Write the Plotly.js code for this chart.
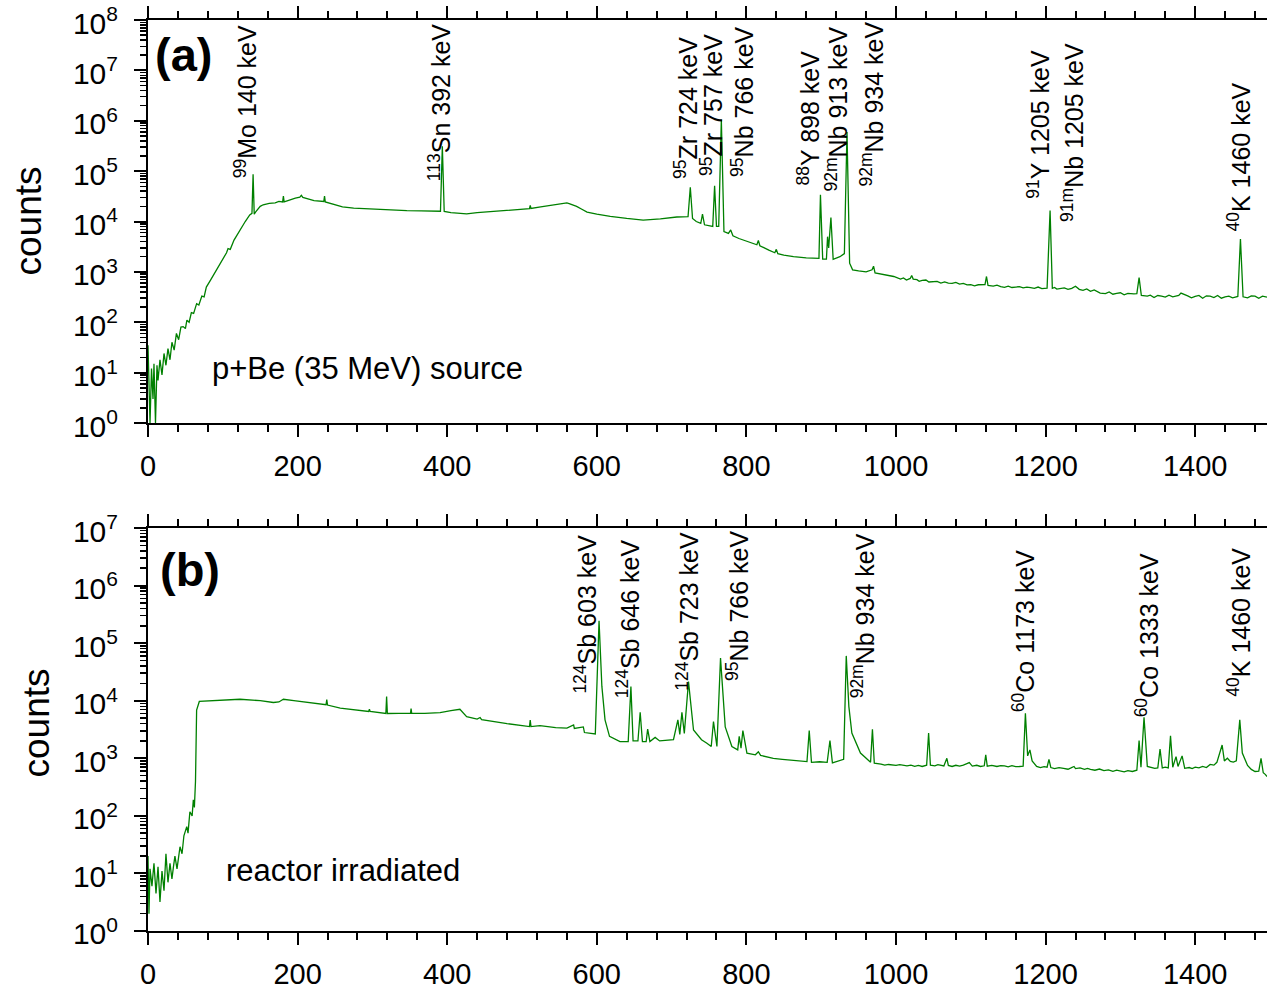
<!DOCTYPE html>
<html><head><meta charset="utf-8">
<script src="https://cdn.plot.ly/plotly-3.0.1.min.js"></script>
<style>html,body{margin:0;padding:0;background:#fff;overflow:hidden}#chart{width:1267px;height:992px}</style>
</head><body><div id="chart"></div>
<script>
// ---- panel (a): p+Be (35 MeV) source : [energy keV, counts] ----
const spectrumA_low = [[0,35],[1.3,8],[2.7,1],[4.7,12],[6.7,3],[8,15],[10,1],[12,14],[13.4,7],[16,18],[18.7,9],[21.4,24],[24,14],[26.7,30],[29.4,18],[32,40],[35,28],[38,60],[41,45],[44,80],[47,82],[50,75],[52,110],[55,100],[58,155],[61,150],[65,234],[68,220],[72,330],[75,320],[78,500],[84,700],[90,1000],[97,1500],[105,2400],[107,2900],[110,2800],[115,4270],[123,6800],[130,10000],[136,13500],[139,14500],[140.5,87000],[142,14000],[144,15500],[150,20000],[154,21500],[162,23000],[170,23500],[175,25000],[180,24500],[181,32000],[182,24500],[190,27000],[197,29000],[203,30500],[205,33000],[207,30000],[210,29000],[222,26000],[235,25000],[236,32000],[237,24500],[245,22500],[252,21000],[260,19500],[275,18500],[290,18000],[301,17700],[320,17200],[346,16500],[365,16300],[380,16200],[391,16000],[393.5,310000],[396,15800],[405,15000],[415,14600],[426,14200],[440,15000],[460,15800],[479,17000],[495,17500],[510,18000],[511,21000],[512,18200],[525,19500],[540,21000],[550,22000],[560,23500],[564,22500],[573,20000],[580,17500],[587,15400],[600,14000],[618,12600],[640,11500],[662,10700],[685,11300],[707,12300]];
const spectrumA_mid = [[722,12500],[725,48000],[728,11500],[733,10000],[739,9200],[741.3,14000],[744,8600],[750,8200],[755,8000],[757.5,51000],[760,8000],[763,8000],[766.5,1050000],[770,6300],[776,5800],[779,6800],[782,5200],[790,4600],[800,4100],[810,3700],[814,3450],[816,4200],[818,3300],[830,2700],[838,2400],[840,2800],[842,2300],[850,2150],[863,2000],[880,1900],[894,1870],[897,1850],[899,34000],[902,1800],[907,1800],[908.5,5000],[910,3000],[913,12000],[916,1780],[925,2000],[931,2300],[934.5,600000],[938,1490],[942,1100],[950,1050],[960,1000],[968,1100],[970,1300],[972,950],[978,920],[985,880],[990,850],[997,810]];
const spectrumA_high = [[1006,720],[1010,760],[1014,690],[1019,740],[1021,850],[1023,720],[1028,700],[1031,650],[1035,680],[1040,690],[1044,630],[1050,640],[1055,650],[1060,600],[1065,630],[1070,600],[1075,590],[1080,620],[1085,570],[1090,590],[1095,550],[1100,560],[1105,530],[1110,555],[1119,560],[1121,810],[1123,540],[1130,520],[1135,545],[1140,510],[1145,495],[1150,520],[1155,490],[1160,500],[1165,510],[1170,480],[1175,500],[1180,485],[1185,470],[1190,500],[1195,465],[1202,475],[1206,16500],[1209,470],[1212,490],[1215,455],[1220,465],[1225,480],[1230,450],[1235,470],[1240,520],[1245,450],[1250,430],[1255,460],[1260,410],[1265,440],[1273,380],[1280,370],[1285,400],[1290,360],[1295,375],[1300,385],[1305,350],[1310,375],[1318,365],[1322,370],[1325,770],[1328,340],[1336,330],[1340,345],[1345,310],[1350,340],[1355,330],[1360,315],[1365,345],[1370,320],[1378,340],[1381,380],[1390,335],[1395,305],[1400,325],[1405,340],[1410,300],[1415,335],[1420,330],[1425,310],[1430,340],[1435,300],[1440,320],[1445,330],[1450,305],[1457,325],[1460.5,4500],[1464,320],[1470,305],[1475,335],[1480,330],[1485,300],[1490,330],[1496,316]];

// ---- panel (b): reactor irradiated : [energy keV, counts] ----
const spectrumB_low = [[0,20],[1.3,2],[2.7,12],[5.3,6],[8,15],[10.7,4.5],[13.4,13],[16,3.2],[18.7,11],[21.4,5],[24,22],[26.7,7],[29.4,15],[32,8],[34,13],[36,20],[38.8,12],[42.8,29],[45.5,22],[48,45],[51.8,65],[53.5,50],[56,118],[59,100],[60.6,190],[62,140],[63.5,400],[65,6900],[68.6,9700],[90,10000],[123,10600],[150,10000],[167.6,9300],[175,9500],[181,10600],[195,10000],[212,9300],[225,8800],[238,8500],[239,10500],[240,8400],[257,7400],[275,6900],[295,6500],[296,7100],[297,6500],[318,6000],[319,11800],[320,6000],[340,6000],[351,6100],[351.7,7300],[352.5,6100],[370,6000],[390.5,6200],[405,6700],[417,7100],[426,5300],[440,4800],[444,5100],[446,4700],[480,4000],[500,3700],[510,3550],[511,4600],[512,3550],[524,3700],[545,3400],[560,3330],[569,3800],[570,3300],[582,3500],[583.5,2800],[598,2650]];
const spectrumB_mid = [[603,245000],[606.8,17700],[611,4650],[617,2400],[631,1950],[642,1950],[645.6,17700],[648.5,2000],[655,2000],[658,6300],[661,1950],[666,1950],[668,3200],[671,1950],[678,2300],[684,2000],[702.5,2100],[708.4,4650],[711,2600],[713.8,6300],[717,2700],[722.6,21500],[729.3,3100],[740,2100],[747.2,1830],[753,1600],[756,4350],[760.6,1600],[765.4,55000],[771.7,3500],[780.6,1600],[788.4,1400],[790.4,2400],[792.8,1500],[795.3,3030],[800.7,1230],[812,1150],[816,1300],[819,1120],[836,1000],[848,960],[860,920],[870,900],[881,875],[884,3030],[887,850],[898,870],[908,850],[911.7,2030],[915,830],[930,960],[933.5,60000],[937,7900],[941,2740],[952.5,1230],[966,850],[968.5,3200],[971,820]];
const spectrumB_high = [[980,790],[985,760],[990,780],[1000,750],[1005,775],[1014.7,740],[1020,760],[1025,725],[1030,750],[1035,720],[1041,760],[1043.6,2740],[1046,760],[1052,740],[1056,775],[1060,760],[1064,735],[1068,1000],[1070,750],[1075,720],[1080,755],[1085,730],[1090,760],[1098,840],[1102,730],[1108,755],[1113,720],[1118,740],[1120,1150],[1122,730],[1128,755],[1135,720],[1140,745],[1145,740],[1150,710],[1155,745],[1160,715],[1165,720],[1170,730],[1173,6050],[1176,1100],[1179,1400],[1182,900],[1188,720],[1193,690],[1198,715],[1202,700],[1204.5,960],[1207,690],[1212,660],[1218,690],[1224,670],[1230,645],[1234,680],[1238,720],[1240,660],[1246,680],[1252,640],[1256,665],[1260,640],[1266,620],[1272,650],[1278,610],[1284,630],[1290,595],[1295,620],[1300,600],[1305,580],[1310,610],[1316,590],[1322,620],[1325,2030],[1327.5,700],[1331.6,5150],[1336,720],[1342,700],[1346,670],[1350,680],[1353,1440],[1356,680],[1360,700],[1364,680],[1367,2450],[1370,700],[1374.4,1070],[1377,720],[1382.5,1100],[1386,670],[1392,690],[1396,660],[1400,700],[1405,680],[1410,720],[1415,690],[1420,780],[1425,760],[1429,850],[1436,1700],[1439,900],[1443,1000],[1447,880],[1451,860],[1455,900],[1459.6,4650],[1463,1230],[1470,750],[1475,640],[1480,590],[1485,600],[1488,1000],[1491,560],[1494,520],[1496,480]];

// ---- axis tick labels ----
const decadeValsA = [1,10,100,1e3,1e4,1e5,1e6,1e7,1e8];
const decadeTextA = ['10<sup>0</sup>','10<sup>1</sup>','10<sup>2</sup>','10<sup>3</sup>','10<sup>4</sup>','10<sup>5</sup>','10<sup>6</sup>','10<sup>7</sup>','10<sup>8</sup>'];
const decadeValsB = [1,10,100,1e3,1e4,1e5,1e6,1e7];
const decadeTextB = ['10<sup>0</sup>','10<sup>1</sup>','10<sup>2</sup>','10<sup>3</sup>','10<sup>4</sup>','10<sup>5</sup>','10<sup>6</sup>','10<sup>7</sup>'];

// ---- peak labels ----
const peakTextA = ['<sup>99</sup>Mo 140 keV','<sup>113</sup>Sn 392 keV','<sup>95</sup>Zr 724 keV','<sup>95</sup>Zr 757 keV','<sup>95</sup>Nb 766 keV','<sup>88</sup>Y 898 keV','<sup>92m</sup>Nb 913 keV','<sup>92m</sup>Nb 934 keV','<sup>91</sup>Y 1205 keV','<sup>91m</sup>Nb 1205 keV','<sup>40</sup>K 1460 keV'];
const peakTextB = ['<sup>124</sup>Sb 603 keV','<sup>124</sup>Sb 646 keV','<sup>124</sup>Sb 723 keV','<sup>95</sup>Nb 766 keV','<sup>92m</sup>Nb 934 keV','<sup>60</sup>Co 1173 keV','<sup>60</sup>Co 1333 keV','<sup>40</sup>K 1460 keV'];
// label placement (right edge in keV, bottom in log10 counts)
const labelPosA = [[145.8,4.83],[405,4.79],[734.2,4.83],[767.7,4.89],[809.1,4.87],[898.7,4.69],[936.2,4.57],[983,4.67],[1206.3,4.43],[1250.5,3.97],[1473.8,3.78]];
const labelPosB = [[600.5,4.10],[656.7,4.02],[735.6,4.15],[802.5,4.33],[971,4.02],[1185,3.79],[1350.8,3.70],[1473.8,4.05]];

const FONT = 'Liberation Sans, Arial, sans-serif';
const GREEN = 'rgb(0,128,0)';

const ptsA = spectrumA_low.concat(spectrumA_mid, spectrumA_high);
const ptsB = spectrumB_low.concat(spectrumB_mid, spectrumB_high);

const traces = [
  {x: ptsA.map(p=>p[0]), y: ptsA.map(p=>p[1]), type:'scatter', mode:'lines', line:{color:GREEN, width:1.3}, xaxis:'x', yaxis:'y', hoverinfo:'skip'},
  {x: ptsB.map(p=>p[0]), y: ptsB.map(p=>p[1]), type:'scatter', mode:'lines', line:{color:GREEN, width:1.3}, xaxis:'x2', yaxis:'y2', hoverinfo:'skip'}
];

function xAxis(anchor){
  return {anchor: anchor, range:[0,1496], dtick:200, tick0:0, showgrid:false, zeroline:false,
    showline:true, linecolor:'black', linewidth:2, mirror:'ticks',
    ticks:'outside', ticklen:12, tickwidth:2, tickcolor:'black',
    minor:{dtick:40, tick0:0, ticks:'outside', ticklen:7, tickwidth:2, tickcolor:'black', showgrid:false},
    tickfont:{family:FONT, size:29, color:'black'}, ticklabelstandoff:4, ticklabeloverflow:'allow'};
}
function yAxis(anchor, domain, vals, text, top){
  return {anchor: anchor, domain: domain, type:'log', range:[-0.0005, top+0.0005], showgrid:false, zeroline:false,
    showline:true, linecolor:'black', linewidth:2,
    ticks:'outside', ticklen:12, tickwidth:2, tickcolor:'black',
    tickmode:'array', tickvals: vals, ticktext: text,
    minor:{ticks:'outside', ticklen:6, tickwidth:1.5, tickcolor:'black', dtick:'D1', showgrid:false},
    tickfont:{family:FONT, size:30, color:'black'}, ticklabelstandoff:10, ticklabelshift:3, ticklabeloverflow:'allow'};
}

const annotations = [];
peakTextA.forEach((t,i)=>annotations.push({text:t, x:labelPosA[i][0], y:labelPosA[i][1], xref:'x', yref:'y',
  xanchor:'right', yanchor:'bottom', textangle:-90, showarrow:false, xshift:6, borderpad:0,
  font:{family:FONT, size:25, color:'black'}}));
peakTextB.forEach((t,i)=>annotations.push({text:t, x:labelPosB[i][0], y:labelPosB[i][1], xref:'x2', yref:'y2',
  xanchor:'right', yanchor:'bottom', textangle:-90, showarrow:false, xshift:6, borderpad:0,
  font:{family:FONT, size:25, color:'black'}}));
annotations.push(
  {text:'<b>(a)</b>', xref:'x domain', yref:'y domain', x:0, y:0.9156, xanchor:'left', yanchor:'middle', xshift:5, showarrow:false, font:{family:FONT, size:47, color:'black'}},
  {text:'<b>(b)</b>', xref:'x2 domain', yref:'y2 domain', x:0, y:0.898, xanchor:'left', yanchor:'middle', xshift:10, showarrow:false, font:{family:FONT, size:47, color:'black'}},
  {text:'p+Be (35 MeV) source', xref:'x domain', yref:'y domain', x:0, y:0.1365, xanchor:'left', yanchor:'middle', xshift:62, showarrow:false, font:{family:FONT, size:31, color:'black'}},
  {text:'reactor irradiated', xref:'x2 domain', yref:'y2 domain', x:0, y:0.149, xanchor:'left', yanchor:'middle', xshift:76, showarrow:false, font:{family:FONT, size:31, color:'black'}},
  {text:'counts', xref:'paper', yref:'y domain', x:0, y:0.5, xanchor:'center', yanchor:'middle', xshift:-119, textangle:-90, showarrow:false, font:{family:FONT, size:37, color:'black'}},
  {text:'counts', xref:'paper', yref:'y2 domain', x:0, y:0.5, xanchor:'center', yanchor:'middle', xshift:-112, yshift:6, textangle:-90, showarrow:false, font:{family:FONT, size:37, color:'black'}}
);

const layout = {
  width:1267, height:992, margin:{l:148, r:0, t:20, b:61},
  paper_bgcolor:'white', plot_bgcolor:'white', showlegend:false,
  xaxis: xAxis('y'), yaxis: yAxis('x', [0.5576,1], decadeValsA, decadeTextA, 8),
  xaxis2: xAxis('y2'), yaxis2: yAxis('x2', [0,0.4424], decadeValsB, decadeTextB, 7),
  annotations: annotations
};
Plotly.newPlot('chart', traces, layout, {staticPlot:true, displayModeBar:false});
</script></body></html>
